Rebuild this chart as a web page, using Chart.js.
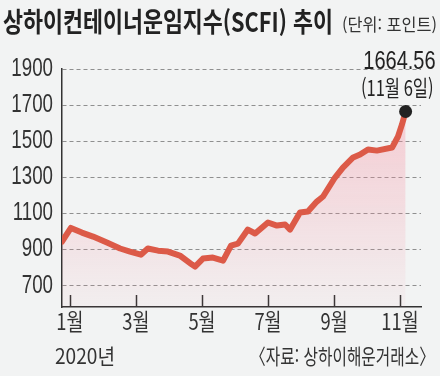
<!DOCTYPE html>
<html lang="ko">
<head>
<meta charset="utf-8">
<script src="https://cdn.jsdelivr.net/npm/chart.js@4.4.1/dist/chart.umd.min.js"></script>
<style>
  html, body { margin: 0; padding: 0; background: #f2f3f3; }
  #wrap { position: relative; width: 440px; height: 376px; overflow: hidden; }
  #chart { position: absolute; left: 0; top: 0; }
  .txt { position: absolute; white-space: nowrap; line-height: 1; color: #222;
         font-family: "Noto Sans CJK KR", sans-serif; transform-origin: 0 0; }
  #title { left: 3px; top: 7px; font-size: 27px; font-weight: bold; }
  #unit { left: 342px; top: 15px; font-size: 17px; color: #333; }
  #year { left: 55px; top: 345px; font-size: 21px; color: #333; }
  #source { left: 250px; top: 345px; font-size: 21px; color: #333; }
</style>
</head>
<body>
<div id="wrap">
  <canvas id="chart" width="440" height="376"></canvas>
  <div class="txt" id="title">상하이컨테이너운임지수(SCFI) 추이</div>
  <div class="txt" id="unit">(단위: 포인트)</div>
  <div class="txt" id="year">2020년</div>
  <div class="txt" id="source">〈자료: 상하이해운거래소〉</div>
</div>
<script>
// 주간 SCFI (x: 1월=0 기준 월 위치)
const weekPos = [-0.24, 0.03, 0.36, 0.70, 1.12, 1.52, 1.82, 2.15, 2.36, 2.67, 2.97, 3.33, 3.70, 3.79,
  4.03, 4.33, 4.64, 4.88, 5.09, 5.39, 5.61, 6.00, 6.27, 6.52, 6.67, 6.97, 7.21, 7.48, 7.67,
  8.03, 8.27, 8.58, 8.79, 9.03, 9.30, 9.76, 9.94, 10.06, 10.17];
const scfiValues = [944, 1020, 994, 972, 939, 906, 889, 872, 906, 894, 889, 867, 817, 806,
  850, 856, 839, 922, 933, 1011, 989, 1050, 1033, 1039, 1011, 1105, 1111, 1166, 1194,
  1299, 1354, 1410, 1426, 1454, 1448, 1465, 1526, 1593, 1664.56];
const monthTicks = [0, 2, 4, 6, 8, 10];
const monthLabels = ['1월', '3월', '5월', '7월', '9월', '11월'];
const yTicks = [700, 900, 1100, 1300, 1500, 1700, 1900];
const lastLabel = '(11월 6일)';

// 가로로 좁힌 글자 그리기
function drawText(ctx, text, x, y, font, align, sx, color) {
  ctx.save();
  ctx.translate(x, y);
  ctx.scale(sx, 1);
  ctx.font = font;
  ctx.fillStyle = color || '#222';
  ctx.textAlign = align;
  ctx.textBaseline = 'middle';
  ctx.fillText(text, 0, 0);
  ctx.restore();
}

const labelPlugin = {
  id: 'labelPlugin',
  beforeDatasetsDraw(chart) {
    const ctx = chart.ctx;
    const xs = chart.scales.x;
    const bottom = chart.chartArea.bottom;
    ctx.save();
    ctx.strokeStyle = '#333';
    ctx.lineWidth = 1.5;
    xs.ticks.forEach(t => {
      const px = Math.round(xs.getPixelForValue(t.value)) + 0.5;
      ctx.beginPath();
      ctx.moveTo(px, bottom);
      ctx.lineTo(px, bottom - 12);
      ctx.stroke();
    });
    ctx.restore();
  },
  afterDraw(chart) {
    const ctx = chart.ctx;
    const xs = chart.scales.x, ys = chart.scales.y;
    const {left, bottom} = chart.chartArea;
    xs.ticks.forEach((t, i) => {
      drawText(ctx, monthLabels[i], xs.getPixelForValue(t.value), bottom + 14,
        '23px "Noto Sans CJK KR"', 'center', 0.8, '#333');
    });
    ys.ticks.forEach(t => {
      drawText(ctx, String(t.value), left - 9, ys.getPixelForValue(t.value),
        '25px "Liberation Sans"', 'right', 0.75, '#333');
    });
    // 마지막 값 표시
    const meta = chart.getDatasetMeta(0);
    const pt = meta.data[meta.data.length - 1];
    const last = scfiValues[scfiValues.length - 1];
    drawText(ctx, last.toFixed(2), pt.x + 30, pt.y - 49, '25px "Liberation Sans"', 'right', 0.8, '#222');
    drawText(ctx, lastLabel, pt.x + 28, pt.y - 24, '22px "Noto Sans CJK KR"', 'right', 0.75, '#222');
  }
};

function fillGradient(context) {
  const area = context.chart.chartArea;
  if (!area) return 'rgba(245,150,165,0.3)';
  const g = context.chart.ctx.createLinearGradient(0, area.top + 40, 0, area.bottom);
  g.addColorStop(0, 'rgba(248,140,158,0.38)');
  g.addColorStop(1, 'rgba(248,140,158,0.04)');
  return g;
}

function initChart() {
  const points = weekPos.map((x, i) => ({x: x, y: scfiValues[i]}));
  const lastIdx = points.length - 1;
  return new Chart(document.getElementById('chart'), {
    type: 'line',
    data: {
      datasets: [{
        data: points,
        borderColor: '#dc5a48',
        borderWidth: 6,
        borderJoinStyle: 'round',
        borderCapStyle: 'round',
        tension: 0,
        fill: 'start',
        backgroundColor: fillGradient,
        pointRadius: ctx => ctx.dataIndex === lastIdx ? 6.5 : 0,
        pointBackgroundColor: '#222',
        pointBorderWidth: 0,
        pointHoverRadius: 0
      }]
    },
    options: {
      responsive: false,
      animation: false,
      devicePixelRatio: 1,
      layout: { padding: { left: 62, right: 19, top: 69, bottom: 69 } },
      plugins: { legend: { display: false }, tooltip: { enabled: false } },
      scales: {
        x: {
          type: 'linear',
          min: -0.24,
          max: 10.636,
          afterBuildTicks: s => { s.ticks = monthTicks.map(v => ({value: v})); },
          ticks: { display: false },
          grid: { display: false, drawTicks: false },
          border: { display: true, color: '#333', width: 1.5 }
        },
        y: {
          min: 582,
          max: 1900,
          afterBuildTicks: s => { s.ticks = yTicks.map(v => ({value: v})); },
          ticks: { display: false },
          grid: { color: '#8f8f8f', lineWidth: 1, drawTicks: false },
          border: { display: true, color: '#333', width: 1.5, dash: [4, 3] }
        }
      }
    },
    plugins: [labelPlugin]
  });
}

// HTML 글자를 목표 폭에 맞게 가로로 좁힘
function fitText(id, width) {
  const el = document.getElementById(id);
  const w = el.getBoundingClientRect().width;
  el.style.transform = 'scaleX(' + (width / w) + ')';
}

document.addEventListener('DOMContentLoaded', function () {
  initChart();
  fitText('title', 330);
  fitText('unit', 95);
  fitText('year', 60);
  fitText('source', 185);
});
</script>
</body>
</html>
